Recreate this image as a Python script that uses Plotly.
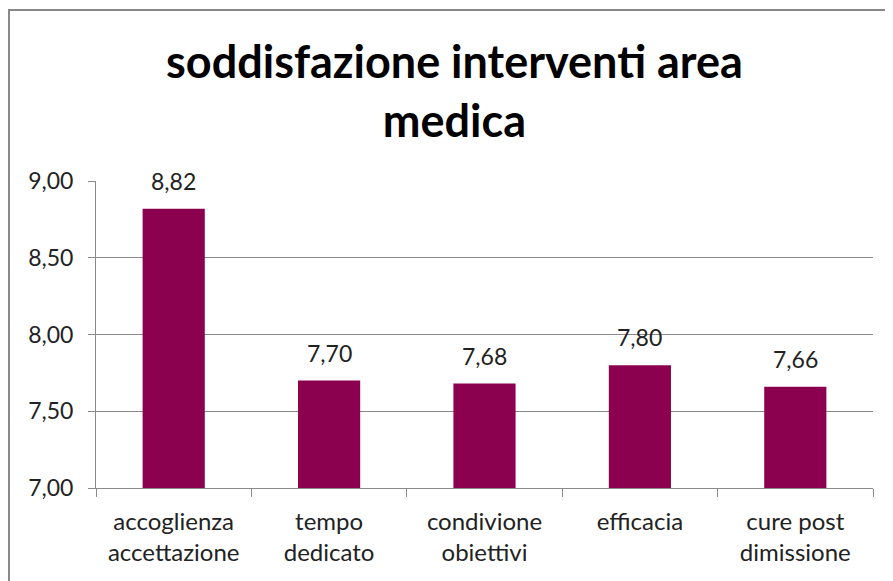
import plotly.graph_objects as go

categories = ["accoglienza<br>accettazione", "tempo<br>dedicato", "condivione<br>obiettivi",
              "efficacia", "cure post<br>dimissione"]
values = [8.82, 7.70, 7.68, 7.80, 7.66]
y_ticks = [7.0, 7.5, 8.0, 8.5, 9.0]
title_text = "soddisfazione interventi area<br>medica"

BAR = "#8B004F"
FONT = "Lato, Carlito, Open Sans, sans-serif"
GRID = "#8a8a8a"

fig = go.Figure(go.Bar(x=categories, y=values, marker=dict(color=BAR, line=dict(width=0)),
                       width=0.4, hoverinfo="skip"))

for c, v in zip(categories, values):
    fig.add_annotation(x=c, y=v, text=f"{v:.2f}".replace(".", ","), showarrow=False,
                       yanchor="bottom", yshift=12, font=dict(family=FONT, size=23, color="#222"))

fig.add_annotation(x=0.462, y=1.295, xref="paper", yref="paper", text="<b>" + title_text + "</b>",
                   showarrow=False, xanchor="center", yanchor="middle",
                   font=dict(family=FONT, size=45, color="black"))

fig.add_shape(type="rect", xref="paper", yref="paper", x0=-0.112, x1=1.2, y0=-0.5, y1=1.557,
              line=dict(color="#888888", width=2), fillcolor="rgba(0,0,0,0)", layer="below")

fig.update_layout(
    width=885, height=573,
    margin=dict(l=88, r=20, t=173, b=93, autoexpand=False),
    paper_bgcolor="white", plot_bgcolor="white",
    separators=",.",
    showlegend=False,
    font=dict(family=FONT, size=23, color="#222"),
)
fig.update_yaxes(range=[7, 9], tickvals=y_ticks, tickformat=".2f", showgrid=True,
                 gridcolor=GRID, gridwidth=1, showline=True, linecolor=GRID,
                 ticks="outside", ticklen=7, tickcolor=GRID, zeroline=False,
                 ticklabelstandoff=10,
                 tickfont=dict(family=FONT, size=23, color="#222"), fixedrange=True)
fig.update_xaxes(showgrid=False, showline=True, linecolor=GRID, ticks="outside",
                 tickson="boundaries", ticklen=8, tickcolor=GRID, ticklabelstandoff=12,
                 tickfont=dict(family=FONT, size=24, color="#222"), fixedrange=True)

fig.write_html("out.html")
